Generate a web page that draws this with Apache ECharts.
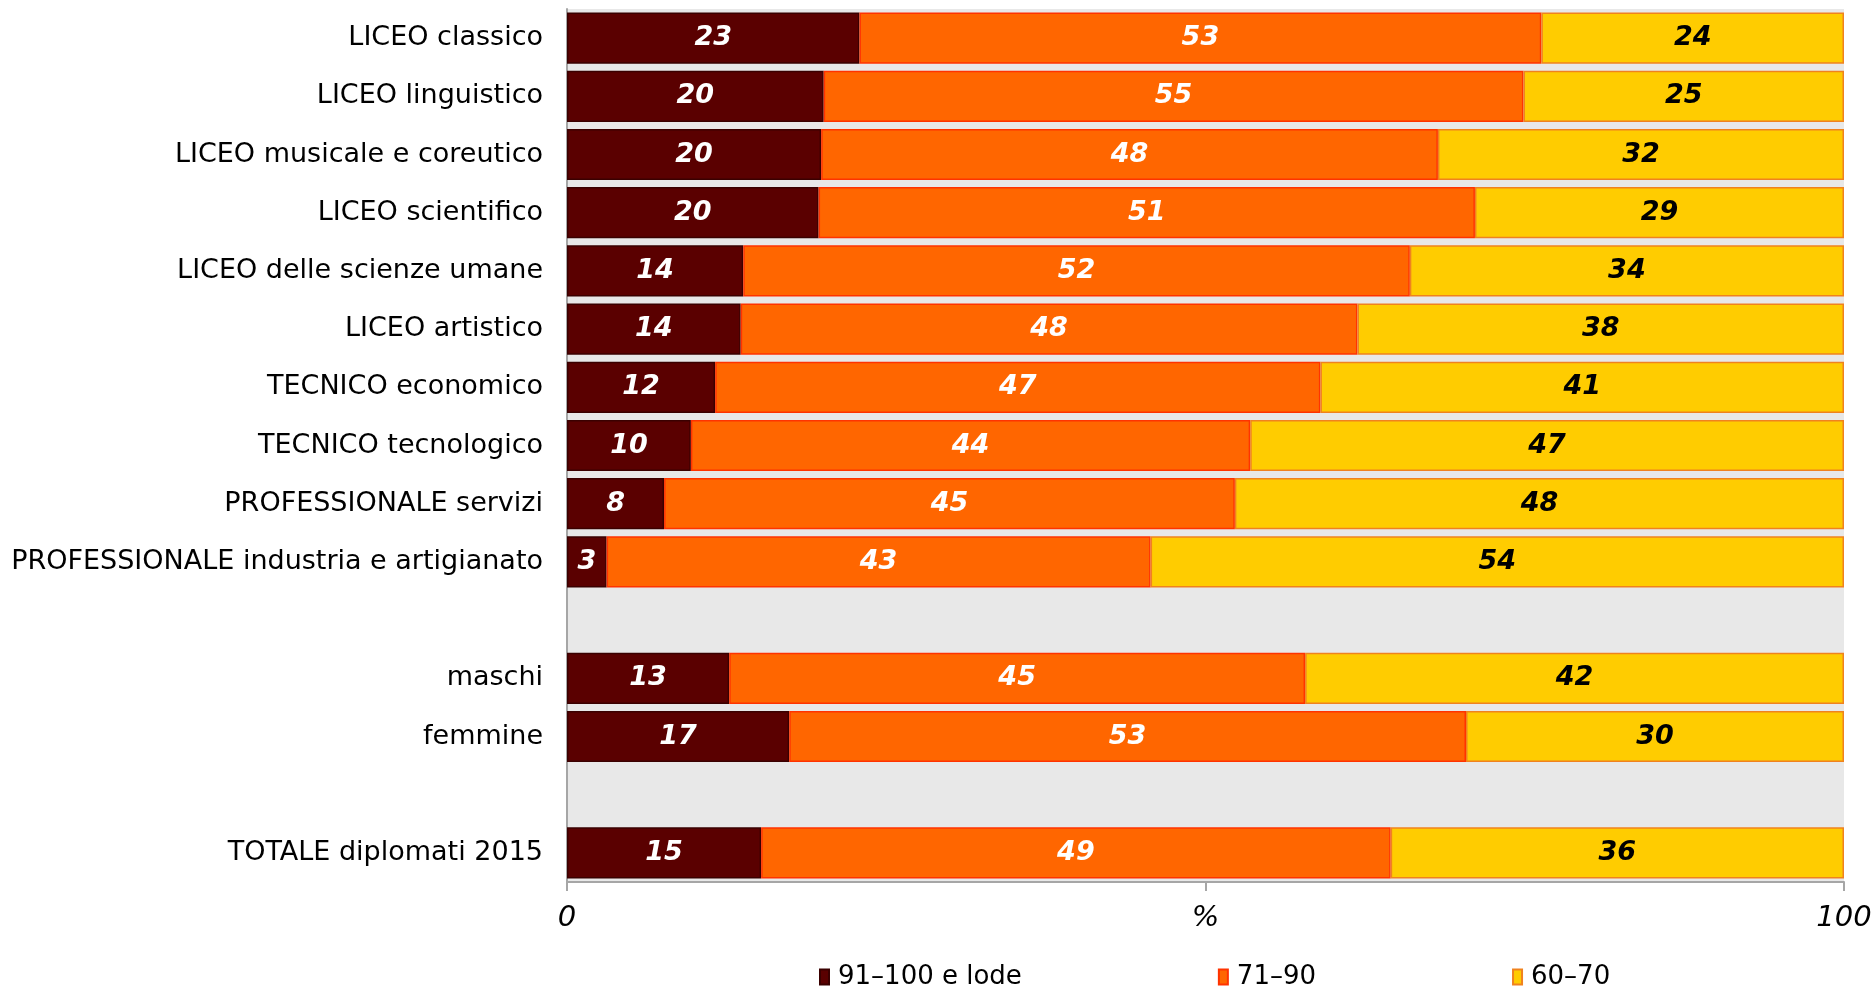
<!DOCTYPE html>
<html>
<head>
<meta charset="utf-8">
<script src="https://cdn.jsdelivr.net/npm/echarts@6/dist/echarts.min.js"></script>
<style>
html,body{margin:0;padding:0;background:#fff;}
#chart{width:1876px;height:987px;}
</style>
</head>
<body>
<div id="chart"></div>
<script>
const categories = [
  'LICEO classico',
  'LICEO linguistico',
  'LICEO musicale e coreutico',
  'LICEO scientifico',
  'LICEO delle scienze umane',
  'LICEO artistico',
  'TECNICO economico',
  'TECNICO tecnologico',
  'PROFESSIONALE servizi',
  'PROFESSIONALE industria e artigianato',
  '',
  'maschi',
  'femmine',
  ' ',
  'TOTALE diplomati 2015'
];
const seriesNames = ['91–100 e lode', '71–90', '60–70'];
const votoAlto = [22.9, 20.1, 19.9, 19.7, 13.8, 13.6, 11.6, 9.7, 7.6, 3.1, '-', 12.7, 17.4, '-', 15.2];
const votoMedio = [53.4, 54.8, 48.3, 51.4, 52.2, 48.3, 47.4, 43.8, 44.7, 42.6, '-', 45.1, 53.0, '-', 49.3];
const votoBasso = [23.7, 25.1, 31.8, 28.9, 34.0, 38.1, 41.0, 46.5, 47.7, 54.3, '-', 42.2, 29.6, '-', 35.5];
const xTickLabels = {0: '0', 50: '%', 100: '100'};

const FONT = 'DejaVu Sans';
const chart = echarts.init(document.getElementById('chart'));

function mk(name, data, fill, border, labelColor) {
  return {
    name: name,
    type: 'bar',
    stack: 'total',
    data: data,
    barCategoryGap: '12%',
    itemStyle: {color: fill, borderColor: border, borderWidth: 1.5},
    label: {
      show: true,
      position: 'inside',
      color: labelColor,
      fontFamily: FONT,
      fontSize: 27,
      fontWeight: 'bold',
      fontStyle: 'italic',
      formatter: p => Math.round(p.value)
    },
    emphasis: {disabled: true}
  };
}

chart.setOption({
  animation: false,
  grid: {
    left: 567, right: 32, top: 9, bottom: 105,
    show: true, backgroundColor: '#e8e8e8', borderWidth: 0
  },
  legend: {
    data: seriesNames,
    left: 814,
    top: 959,
    icon: 'rect',
    itemWidth: 9,
    itemHeight: 15,
    itemGap: 196,
    textStyle: {fontFamily: FONT, fontSize: 26, color: '#000', padding: [0, 0, 0, 4]}
  },
  xAxis: {
    type: 'value',
    min: 0, max: 100, interval: 50,
    axisLine: {show: true, lineStyle: {color: '#a6a6a6', width: 2}},
    axisTick: {show: true, length: 9, lineStyle: {color: '#a6a6a6', width: 2}},
    splitLine: {show: false},
    axisLabel: {
      fontFamily: FONT, fontSize: 29, fontStyle: 'italic', color: '#000', margin: 22,
      formatter: v => xTickLabels[v] !== undefined ? xTickLabels[v] : ''
    }
  },
  yAxis: {
    type: 'category',
    inverse: true,
    data: categories,
    axisLine: {show: true, lineStyle: {color: '#a6a6a6', width: 2}},
    axisTick: {show: false},
    axisLabel: {fontFamily: FONT, fontSize: 27, color: '#000', margin: 24}
  },
  series: [
    mk(seriesNames[0], votoAlto, '#5a0000', '#3a0000', '#fff'),
    mk(seriesNames[1], votoMedio, '#ff6600', '#ff3300', '#fff'),
    mk(seriesNames[2], votoBasso, '#ffcc00', '#f0821e', '#000')
  ]
});
</script>
</body>
</html>
